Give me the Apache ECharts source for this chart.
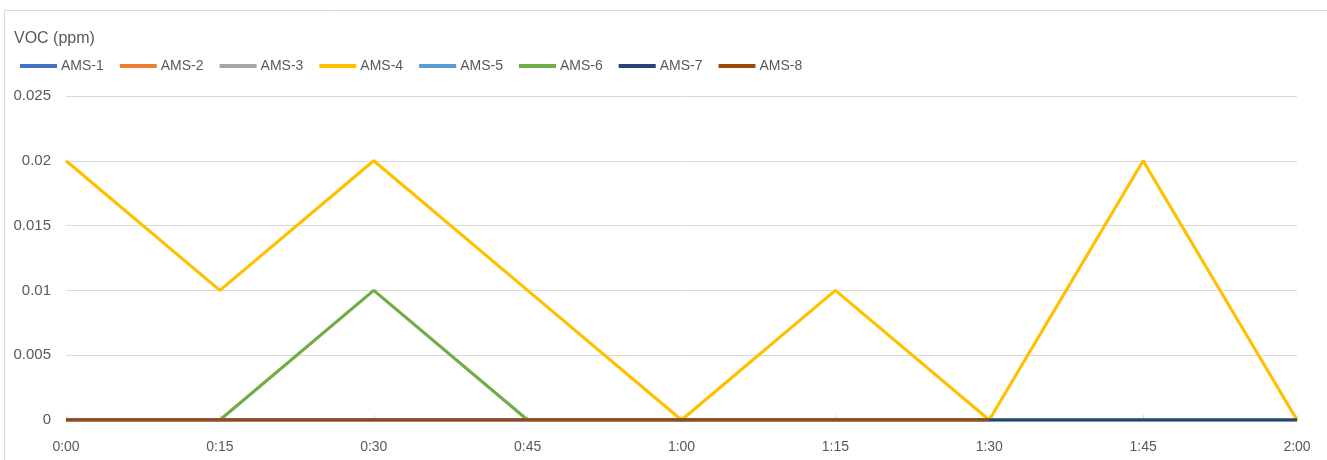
<!DOCTYPE html>
<html>
<head>
<meta charset="utf-8">
<script src="https://cdn.jsdelivr.net/npm/echarts@6/dist/echarts.min.js"></script>
<style>
  html, body { margin: 0; padding: 0; background: #fff; }
  #chart { width: 1327px; height: 460px; }
</style>
</head>
<body>
<div id="chart"></div>
<script>
  var times = ['0:00', '0:15', '0:30', '0:45', '1:00', '1:15', '1:30', '1:45', '2:00'];
  var seriesNames = ['AMS-1', 'AMS-2', 'AMS-3', 'AMS-4', 'AMS-5', 'AMS-6', 'AMS-7', 'AMS-8'];
  var ams1 = [0, 0, 0, 0, 0, 0, 0, 0, 0];
  var ams2 = [0, 0, 0, 0, 0, 0, 0, 0, 0];
  var ams3 = [0, 0, 0, 0, 0, 0, 0, 0, 0];
  var ams4 = [0.02, 0.01, 0.02, 0.01, 0, 0.01, 0, 0.02, 0];
  var ams5 = [0, 0, 0, 0, 0, 0, 0, 0, 0];
  var ams6 = [0, 0, 0.01, 0, 0, 0, 0, 0, 0];
  var ams7 = [0, 0, 0, 0, 0, 0, 0, 0, 0];
  var ams8 = [0, 0, 0, 0, 0, 0, 0, null, null];
  var yTicks = [0, 0.005, 0.01, 0.015, 0.02, 0.025];

  var colors = ['#4472C4', '#ED7D31', '#A5A5A5', '#FFC000', '#5B9BD5', '#70AD47', '#264478', '#9E480E'];
  var allData = [ams1, ams2, ams3, ams4, ams5, ams6, ams7, ams8];
  var font = 'Liberation Sans';

  var series = [];
  for (var i = 0; i < seriesNames.length; i++) {
    series.push({
      name: seriesNames[i],
      type: 'line',
      data: allData[i],
      showSymbol: false,
      symbol: 'none',
      lineStyle: { width: 3.2, color: colors[i] },
      itemStyle: { color: colors[i] },
      connectNulls: false
    });
  }

  var chart = echarts.init(document.getElementById('chart'));
  chart.setOption({
    animation: false,
    color: colors,
    graphic: [{
      type: 'rect',
      shape: { x: 4.5, y: 10.5, width: 1400, height: 500 },
      style: { fill: 'none', stroke: '#d9d9d9', lineWidth: 1 },
      silent: true
    }],
    title: {
      text: 'VOC (ppm)',
      left: 9,
      top: 26,
      textStyle: { fontFamily: font, fontSize: 16, fontWeight: 'normal', color: '#595959' }
    },
    legend: {
      data: seriesNames,
      left: 15,
      top: 54,
      itemWidth: 37,
      itemHeight: 4,
      itemGap: 16,
      icon: 'rect',
      textStyle: { fontFamily: font, fontSize: 14, color: '#595959', padding: [0, 0, 0, -1] }
    },
    grid: { left: 66, right: 30, top: 96, bottom: 40 },
    xAxis: {
      type: 'category',
      data: times,
      boundaryGap: false,
      axisLine: { lineStyle: { color: '#d9d9d9', width: 1 } },
      axisTick: { show: true, inside: true, length: 5, lineStyle: { color: '#d9d9d9' } },
      axisLabel: { fontFamily: font, fontSize: 14, color: '#595959', margin: 20 },
      splitLine: { show: false }
    },
    yAxis: {
      type: 'value',
      min: yTicks[0],
      max: yTicks[yTicks.length - 1],
      interval: 0.005,
      axisLine: { show: false },
      axisTick: { show: false },
      axisLabel: { fontFamily: font, fontSize: 15, color: '#595959', margin: 15 },
      splitLine: { lineStyle: { color: '#d9d9d9', width: 1 } }
    },
    series: series
  });
</script>
</body>
</html>
